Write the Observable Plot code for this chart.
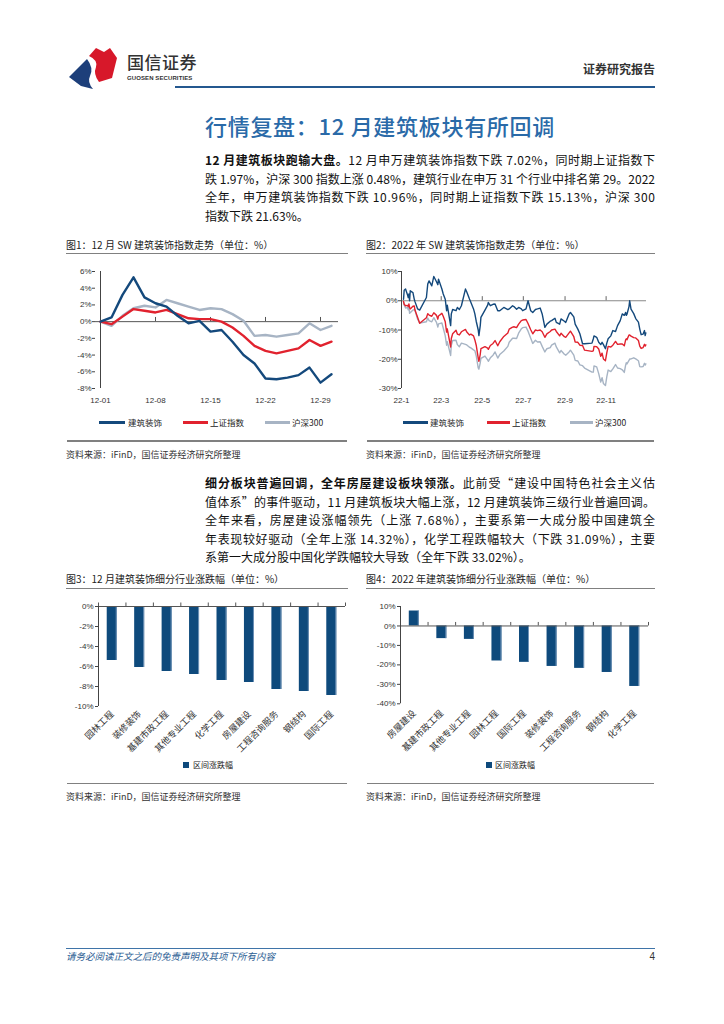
<!DOCTYPE html>
<html lang="zh-CN">
<head>
<meta charset="utf-8">
<title>行情复盘：12月建筑板块有所回调</title>
<script src="https://cdn.jsdelivr.net/npm/d3@7"></script>
<script src="https://cdn.jsdelivr.net/npm/@observablehq/plot@0.6"></script>
<style>
  html,body{margin:0;padding:0;background:#fff;}
  #page{position:relative;width:724px;height:1024px;overflow:hidden;background:#fff;
    font-family:"Noto Sans CJK SC","Liberation Sans",sans-serif;color:#1a1a1a;}
  .a{position:absolute;white-space:nowrap;}
  .jl{position:absolute;left:205px;height:18px;line-height:18px;font-size:12px;white-space:nowrap;color:#111;}
  .ft{font-size:10px;line-height:14px;color:#222;}
  .src{font-size:9px;line-height:12px;color:#333;}
  .rule{position:absolute;height:1.5px;background:#808080;}
  .lg{font-size:8.5px;line-height:12px;color:#222;}
  .sw{position:absolute;height:3px;}
  .sq{position:absolute;width:6px;height:6px;background:#0E4A7C;}
</style>
</head>
<body>
<div id="page">
  <!-- header -->
  <svg class="a" style="left:66px;top:44px" width="56" height="46" viewBox="0 0 56 46">
    <path d="M3,33 L21,15 Q28,24 24,32 Q21,38 27,45 L15,42 Z" fill="#1D3F7A"/>
    <path d="M23,12 L30,4 L38,8 L44,4 L51,14 L46,34 L33,38 Q27,30 30,23 Q32,16 23,12 Z" fill="#D7182A"/>
  </svg>
  <div class="a" style="left:127px;top:52px;font-size:17px;line-height:20px;color:#333;font-weight:500;letter-spacing:0.5px">国信证券</div>
  <div class="a" style="left:127px;top:74px;font-size:6px;line-height:8px;color:#333;font-family:'Liberation Sans',sans-serif;font-weight:bold;letter-spacing:0.1px">GUOSEN SECURITIES</div>
  <div class="a" style="right:69px;top:61px;font-size:12px;line-height:16px;color:#333;font-weight:700">证券研究报告</div>
  <div class="a" style="left:175px;top:86px;width:480px;height:2px;background:#24588F"></div>

  <!-- heading -->
  <div class="a" style="left:205px;top:110px;font-size:22px;line-height:30px;color:#2A6AA8;font-weight:500;letter-spacing:0.7px">行情复盘：12 月建筑板块有所回调</div>

  <!-- paragraph 1 -->
  <div class="jl" style="top:151px"><span><b>12 月建筑板块跑输大盘。</b>12 月申万建筑装饰指数下跌 7.02%，同时期上证指数下</span></div>
  <div class="jl" style="top:169.5px"><span>跌 1.97%，沪深 300 指数上涨 0.48%，建筑行业在申万 31 个行业中排名第 29。2022</span></div>
  <div class="jl" style="top:188px"><span>全年，申万建筑装饰指数下跌 10.96%，同时期上证指数下跌 15.13%，沪深 300</span></div>
  <div class="jl last" style="top:206.5px"><span>指数下跌 21.63%。</span></div>

  <!-- figure titles top -->
  <div class="a ft" style="left:66px;top:238px">图1：12 月 SW 建筑装饰指数走势（单位：%）</div>
  <div class="rule" style="left:66px;top:252.5px;width:282px"></div>
  <div class="a ft" style="left:366px;top:238px">图2：2022 年 SW 建筑装饰指数走势（单位：%）</div>
  <div class="rule" style="left:366px;top:252.5px;width:289px"></div>

  <div id="c1" class="a" style="left:60px;top:262px"></div>
  <div id="c2" class="a" style="left:360px;top:262px"></div>

  <!-- legends top -->
  <div class="sw" style="left:99px;top:420.5px;width:26px;background:#14497C"></div>
  <div class="a lg" style="left:128px;top:416px">建筑装饰</div>
  <div class="sw" style="left:183px;top:420.5px;width:25px;background:#E1222E"></div>
  <div class="a lg" style="left:210px;top:416px">上证指数</div>
  <div class="sw" style="left:265px;top:420.5px;width:25px;background:#A7B4C4"></div>
  <div class="a lg" style="left:292px;top:416px">沪深300</div>

  <div class="sw" style="left:403px;top:420.5px;width:25px;background:#14497C"></div>
  <div class="a lg" style="left:430px;top:416px">建筑装饰</div>
  <div class="sw" style="left:487px;top:420.5px;width:23px;background:#E1222E"></div>
  <div class="a lg" style="left:512px;top:416px">上证指数</div>
  <div class="sw" style="left:570px;top:420.5px;width:23px;background:#A7B4C4"></div>
  <div class="a lg" style="left:595px;top:416px">沪深300</div>

  <div class="rule" style="left:67px;top:440px;width:280px"></div>
  <div class="rule" style="left:367px;top:440px;width:287px"></div>
  <div class="a src" style="left:66px;top:449px">资料来源：iFinD，国信证券经济研究所整理</div>
  <div class="a src" style="left:366px;top:449px">资料来源：iFinD，国信证券经济研究所整理</div>

  <!-- paragraph 2 -->
  <div class="jl" style="top:474px"><span><b>细分板块普遍回调，全年房屋建设板块领涨。</b>此前受“建设中国特色社会主义估</span></div>
  <div class="jl" style="top:492.5px"><span>值体系”的事件驱动，11 月建筑板块大幅上涨，12 月建筑装饰三级行业普遍回调。</span></div>
  <div class="jl" style="top:511px"><span>全年来看，房屋建设涨幅领先（上涨 7.68%），主要系第一大成分股中国建筑全</span></div>
  <div class="jl" style="top:529.5px"><span>年表现较好驱动（全年上涨 14.32%），化学工程跌幅较大（下跌 31.09%），主要</span></div>
  <div class="jl last" style="top:548px"><span>系第一大成分股中国化学跌幅较大导致（全年下跌 33.02%）。</span></div>

  <!-- figure titles bottom -->
  <div class="a ft" style="left:66px;top:572px">图3：12 月建筑装饰细分行业涨跌幅（单位：%）</div>
  <div class="rule" style="left:66px;top:587.5px;width:282px"></div>
  <div class="a ft" style="left:366px;top:572px">图4：2022 年建筑装饰细分行业涨跌幅（单位：%）</div>
  <div class="rule" style="left:366px;top:587.5px;width:289px"></div>

  <div id="c3" class="a" style="left:60px;top:598px"></div>
  <div id="c4" class="a" style="left:360px;top:598px"></div>

  <div class="sq" style="left:183px;top:762px"></div>
  <div class="a lg" style="left:193px;top:759px;font-size:8px">区间涨跌幅</div>
  <div class="sq" style="left:486px;top:762px"></div>
  <div class="a lg" style="left:495px;top:759px;font-size:8px">区间涨跌幅</div>

  <div class="rule" style="left:67px;top:782.5px;width:280px"></div>
  <div class="rule" style="left:367px;top:782.5px;width:287px"></div>
  <div class="a src" style="left:66px;top:791px">资料来源：iFinD，国信证券经济研究所整理</div>
  <div class="a src" style="left:366px;top:791px">资料来源：iFinD，国信证券经济研究所整理</div>

  <!-- footer -->
  <div class="a" style="left:66px;top:948px;width:589px;height:1px;background:#3F74A8"></div>
  <div class="a" style="left:66px;top:950px;font-size:9.5px;line-height:13px;color:#2B5D93;font-style:italic">请务必阅读正文之后的免责声明及其项下所有内容</div>
  <div class="a" style="right:69px;top:950px;font-size:10px;line-height:13px;color:#333;font-family:'Liberation Sans',sans-serif">4</div>
</div>

<script>
// ---------- data ----------
const seriesNames = ["建筑装饰", "上证指数", "沪深300"];
const seriesColors = ["#14497C", "#E1222E", "#A7B4C4"];

// Figure 1: December 2022 trading days (cumulative % change)
const decDays = ["12-01","12-02","12-05","12-06","12-07","12-08","12-09","12-12","12-13","12-14","12-15","12-16","12-19","12-20","12-21","12-22","12-23","12-26","12-27","12-28","12-29","12-30"];
const decJz = [0, 0.5, 3.2, 5.3, 2.9, 2.2, 1.8, 0.7, -0.2, 0.1, -1.2, -1.0, -2.4, -4.0, -5.0, -6.8, -6.9, -6.7, -6.4, -5.5, -7.3, -6.3];
const decSh = [0, -0.3, 0.6, 1.5, 1.3, 1.1, 1.4, 0.9, 0.4, 0.3, 0.3, 0.0, -0.7, -1.7, -2.9, -3.5, -3.8, -3.5, -3.2, -2.2, -2.9, -2.4];
const decHs = [0, -0.5, 0.7, 1.6, 1.9, 1.7, 2.6, 2.2, 1.8, 1.4, 1.6, 1.5, 0.9, 0.1, -1.7, -1.6, -1.8, -1.6, -1.4, -0.2, -1.0, -0.5];
const decXTicks = ["12-01","12-08","12-15","12-22","12-29"];
const decYTicks = [6, 4, 2, 0, -2, -4, -6, -8];

// Figure 2: 2022 (cumulative % change, sampled dates)
const yDates = [
 "2022-01-04","2022-01-05","2022-01-07","2022-01-10","2022-01-11","2022-01-12","2022-01-13","2022-01-14","2022-01-18","2022-01-20","2022-01-21","2022-01-25","2022-01-28",
 "2022-02-07","2022-02-09","2022-02-11","2022-02-15","2022-02-18","2022-02-22","2022-02-24","2022-02-25",
 "2022-03-02","2022-03-04","2022-03-07","2022-03-09","2022-03-10","2022-03-15","2022-03-16","2022-03-18","2022-03-23","2022-03-25","2022-03-28","2022-03-31",
 "2022-04-06","2022-04-08","2022-04-12","2022-04-14","2022-04-18","2022-04-20","2022-04-22","2022-04-25","2022-04-26","2022-04-28","2022-04-29",
 "2022-05-05","2022-05-09","2022-05-10","2022-05-13","2022-05-17","2022-05-20","2022-05-24","2022-05-27",
 "2022-06-02","2022-06-08","2022-06-10","2022-06-15","2022-06-17","2022-06-21","2022-06-24","2022-06-28","2022-06-30",
 "2022-07-05","2022-07-08","2022-07-12","2022-07-15","2022-07-19","2022-07-22","2022-07-26","2022-07-29",
 "2022-08-02","2022-08-05","2022-08-10","2022-08-12","2022-08-17","2022-08-19","2022-08-24","2022-08-26","2022-08-31",
 "2022-09-02","2022-09-07","2022-09-09","2022-09-14","2022-09-16","2022-09-20","2022-09-23","2022-09-27","2022-09-30",
 "2022-10-11","2022-10-13","2022-10-14","2022-10-18","2022-10-21","2022-10-24","2022-10-26","2022-10-28","2022-10-31",
 "2022-11-02","2022-11-04","2022-11-08","2022-11-11","2022-11-15","2022-11-18","2022-11-22","2022-11-25","2022-11-28","2022-11-30",
 "2022-12-01","2022-12-02","2022-12-05","2022-12-06","2022-12-08","2022-12-12","2022-12-15","2022-12-19","2022-12-21","2022-12-23","2022-12-26","2022-12-28","2022-12-29","2022-12-30"];
const yJz = [
 0.5, 3.6, 4.0, 2.0, 1.1, 2.3, 0.0, 3.4, 2.8, 0.5, -0.3, -2.8, -3.2,
 1.1, 5.7, 6.8, 5.1, 8.3, 6.5, 5.5, 7.4,
 4.0, 2.3, 0.5, -3.4, -1.5, -8.5, -4.5, -3.0, -3.4, -2.3, -3.0, -1.7,
 4.0, 3.0, 0.6, -0.5, -2.8, -4.5, -7.0, -10.0, -11.9, -8.5, -5.7,
 -3.2, -1.5, -0.6, -1.7, -1.2, -1.1, -3.4, -3.4,
 -2.3, -3.0, -2.8, -1.7, -2.0, -2.9, -2.3, -2.8, -3.4,
 -2.8, 0.0, -3.4, -4.0, -3.0, -2.8, -2.5, -4.5,
 -9.1, -8.0, -7.0, -6.8, -6.0, -7.4, -8.0, -6.2, -7.0,
 -7.4, -4.5, -4.0, -5.5, -8.0, -9.7, -11.3, -14.7, -14.7,
 -14.5, -13.0, -12.0, -12.5, -14.2, -15.0, -14.2, -15.0, -16.4,
 -14.5, -13.0, -12.0, -10.2, -10.5, -8.5, -6.8, -4.5, -5.0, -4.0,
 -5.0, -4.6, -2.0, 0.0, -2.9, -4.4, -6.1, -7.3, -9.7, -11.6, -11.4, -10.2, -11.9, -11.0];
const ySh = [
 -0.2, -1.2, -1.7, -1.6, -2.0, -1.1, -2.3, -2.8, -1.9, -1.8, -3.2, -5.7, -7.7,
 -5.8, -4.4, -4.9, -5.3, -4.1, -5.0, -6.3, -5.2,
 -4.3, -5.3, -7.2, -10.7, -9.6, -15.8, -12.9, -11.3, -10.1, -11.4, -11.7, -10.6,
 -9.8, -10.7, -11.7, -11.4, -12.0, -13.4, -15.2, -19.6, -20.7, -18.3, -16.4,
 -15.7, -16.2, -16.6, -15.3, -14.6, -13.6, -15.4, -14.0,
 -12.2, -11.0, -9.7, -9.0, -8.9, -9.2, -8.0, -6.8, -6.6,
 -6.4, -7.8, -9.9, -11.3, -10.0, -10.2, -10.0, -10.6,
 -12.5, -11.3, -10.5, -10.0, -9.7, -10.5, -12.0, -11.1, -12.3,
 -12.5, -11.0, -10.4, -12.3, -14.1, -14.2, -15.2, -15.3, -16.9,
 -17.3, -17.1, -15.6, -15.7, -16.5, -19.0, -17.9, -19.9, -20.5,
 -17.8, -15.6, -15.8, -15.2, -13.9, -14.9, -14.8, -14.8, -15.4, -13.4,
 -13.0, -13.3, -11.7, -11.7, -12.1, -12.6, -12.7, -13.6, -15.5, -16.3, -16.0, -14.9, -15.5, -15.1];
const yHs = [
 -0.5, -1.5, -2.5, -2.3, -3.1, -1.9, -4.3, -4.1, -3.2, -3.0, -3.3, -6.3, -7.6,
 -7.2, -5.9, -6.8, -7.2, -5.8, -7.4, -9.0, -7.9,
 -7.6, -9.3, -12.0, -15.2, -14.0, -18.7, -15.2, -13.6, -13.5, -15.0, -15.7, -14.5,
 -14.9, -15.1, -15.9, -16.1, -16.8, -17.1, -18.8, -23.0, -23.4, -21.2, -19.7,
 -18.9, -20.2, -20.7, -19.5, -18.6, -17.5, -19.6, -18.4,
 -17.2, -15.6, -14.2, -12.8, -12.8, -12.9, -11.1, -9.6, -9.2,
 -9.0, -10.4, -12.8, -14.6, -13.5, -14.1, -14.0, -15.6,
 -17.5, -16.4, -16.0, -15.2, -14.5, -15.8, -17.8, -17.0, -18.3,
 -18.6, -17.5, -16.9, -18.6, -20.4, -20.6, -21.9, -22.2, -23.0,
 -24.4, -24.4, -22.3, -22.6, -24.9, -27.8, -26.3, -28.3, -29.0,
 -26.0, -23.7, -24.2, -23.3, -21.8, -23.0, -23.2, -23.6, -24.5, -22.0,
 -21.2, -21.6, -20.4, -19.9, -19.9, -19.5, -19.9, -20.5, -22.5, -22.6, -22.5, -21.4, -22.0, -21.6];
const yXTickDates = ["2022-01-01","2022-03-01","2022-05-01","2022-07-01","2022-09-01","2022-11-01"];
const yXTickLabels = ["22-1","22-3","22-5","22-7","22-9","22-11"];
const yYTicks = [10, 0, -10, -20, -30];

// Figure 3: December sub-industry change (%)
const decCats = ["园林工程","装修装饰","基建市政工程","其他专业工程","化学工程","房屋建设","工程咨询服务","钢结构","国际工程"];
const decChg = [-5.4, -6.1, -6.5, -6.8, -7.4, -7.6, -8.3, -8.5, -8.9];
const decBarYTicks = [0, -2, -4, -6, -8, -10];

// Figure 4: 2022 sub-industry change (%)
const yearCats = ["房屋建设","基建市政工程","其他专业工程","园林工程","国际工程","装修装饰","工程咨询服务","钢结构","化学工程"];
const yearChg = [7.68, -6.5, -6.9, -18.0, -18.7, -20.8, -21.8, -23.9, -31.09];
const yearBarYTicks = [10, 0, -10, -20, -30, -40];

// ---------- charts ----------
const baseStyle = {fontFamily: "'Liberation Sans', 'Noto Sans CJK SC', sans-serif", fontSize: "8px", color: "#333", background: "transparent", overflow: "visible"};
const axisColor = "#444";

function toRows(xs, lists) {
  // draw 沪深300 first, 建筑装饰 last (on top)
  const order = [2, 1, 0];
  return order.flatMap(k => lists[k].map((v, i) => ({x: xs[i], y: v, s: seriesNames[k]})));
}

// Figure 1
const rows1 = toRows(decDays, [decJz, decSh, decHs]);
const c1 = Plot.plot({
  width: 290, height: 152, marginLeft: 35, marginRight: 12, marginTop: 9, marginBottom: 26,
  style: baseStyle,
  x: {type: "point", domain: decDays, padding: 0, insetRight: 3},
  y: {domain: [-8, 6]},
  color: {domain: seriesNames, range: seriesColors},
  marks: [
    Plot.ruleY([0], {stroke: "#555", strokeWidth: 1}),
    Plot.ruleX(decXTicks, {x: d => d, y1: 0, y2: 0.5, stroke: "#555"}),
    Plot.ruleX([decDays[0]], {x: d => d, stroke: axisColor}),
    Plot.axisY({ticks: decYTicks, tickSize: 3, tickPadding: 1, tickFormat: d => d + "%", stroke: axisColor, label: null}),
    Plot.axisX({ticks: decXTicks, tickSize: 0, tickPadding: 9, label: null}),
    Plot.line(rows1, {x: "x", y: "y", z: "s", stroke: "s", strokeWidth: 2.4})
  ]
});
document.getElementById("c1").append(c1);

// Figure 2
const yDateObjs = yDates.map(d => new Date(d));
const rows2 = toRows(yDateObjs, [yJz, ySh, yHs]);
const yTickObjs = yXTickDates.map(d => new Date(d));
const c2 = Plot.plot({
  width: 300, height: 152, marginLeft: 41, marginRight: 14, marginTop: 9, marginBottom: 26,
  style: baseStyle,
  x: {type: "utc", domain: [new Date("2022-01-01"), new Date("2022-12-31")]},
  y: {domain: [-30, 10]},
  color: {domain: seriesNames, range: seriesColors},
  marks: [
    Plot.ruleY([0], {stroke: "#888", strokeWidth: 1}),
    Plot.ruleX(yTickObjs, {x: d => d, y1: 0, y2: 1.4, stroke: "#666"}),
    Plot.ruleX([yTickObjs[0]], {x: d => d, stroke: axisColor}),
    Plot.axisY({ticks: yYTicks, tickSize: 3, tickPadding: 1, tickFormat: d => d + "%", stroke: axisColor, label: null}),
    Plot.axisX({ticks: yTickObjs, tickSize: 0, tickPadding: 9, label: null,
      tickFormat: d => yXTickLabels[yTickObjs.findIndex(t => +t === +d)]}),
    Plot.line(rows2, {x: "x", y: "y", z: "s", stroke: "s", strokeWidth: 1.4})
  ]
});
document.getElementById("c2").append(c2);

// Figures 3 & 4
function barChart(cats, vals, yDomain, yTicks, opts) {
  const n = cats.length;
  const step = (opts.width - opts.marginLeft - opts.marginRight) / n;
  const inset = (step - 10) / 2;
  const pxPerUnit = (opts.height - opts.marginTop - opts.marginBottom) / (yDomain[1] - yDomain[0]);
  const tickLen = 3.5 / pxPerUnit;
  return Plot.plot({
    width: opts.width, height: opts.height,
    marginLeft: opts.marginLeft, marginRight: opts.marginRight, marginTop: opts.marginTop, marginBottom: opts.marginBottom,
    style: baseStyle,
    x: {domain: [0, n]},
    y: {domain: yDomain},
    marks: [
      Plot.rect(vals, {x1: (d, i) => i, x2: (d, i) => i + 1, y1: 0, y2: d => d, insetLeft: inset, insetRight: inset, fill: "#0E4A7C"}),
      Plot.rect(vals, {x1: (d, i) => i, x2: (d, i) => i + 1, y1: 0, y2: d => d, insetLeft: inset + 9, insetRight: inset, fill: "#6F93B8"}),
      Plot.ruleY([0], {stroke: "#555"}),
      Plot.ruleX(d3.range(n + 1), {x: d => d, y1: 0, y2: tickLen, stroke: "#555"}),
      Plot.ruleX([0], {x: d => d, stroke: axisColor}),
      Plot.axisY({ticks: yTicks, tickSize: 3, tickPadding: 2, tickFormat: d => d + "%", stroke: axisColor, label: null}),
      Plot.axisX({ticks: d3.range(n).map(i => i + 0.5), tickFormat: v => cats[Math.floor(v)],
        tickRotate: -45, tickSize: 0, tickPadding: opts.labelPad, fontSize: 9, label: null})
    ]
  });
}
const c3 = barChart(decCats, decChg, [-10, 0], decBarYTicks,
  {width: 290, height: 160, marginLeft: 38, marginRight: 5, marginTop: 8, marginBottom: 52, labelPad: 6});
document.getElementById("c3").append(c3);
const c4 = barChart(yearCats, yearChg, [-40, 10], yearBarYTicks,
  {width: 300, height: 160, marginLeft: 40, marginRight: 12, marginTop: 8, marginBottom: 54.7, labelPad: 8});
document.getElementById("c4").append(c4);

// ---------- justify paragraph lines ----------
function justifyLines() {
  document.querySelectorAll(".jl:not(.last) > span").forEach(span => {
    span.style.letterSpacing = "0px";
    const w = span.getBoundingClientRect().width;
    const n = [...span.textContent].length;
    if (n > 1) span.style.letterSpacing = ((450 - w) / (n - 1)) + "px";
  });
}
justifyLines();
if (document.fonts && document.fonts.ready) document.fonts.ready.then(justifyLines);
</script>
</body>
</html>
